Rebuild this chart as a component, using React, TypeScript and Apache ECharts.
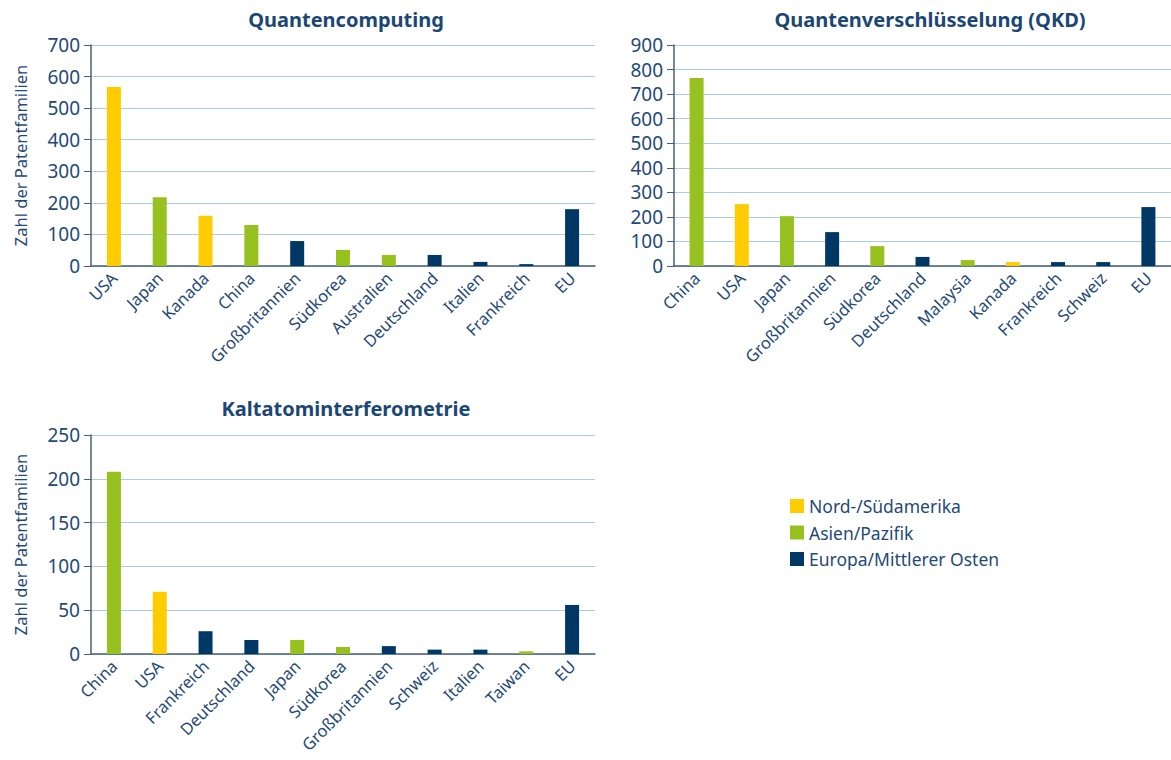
import React, { useEffect, useRef } from "react";
import * as echarts from "echarts";

const REGIONS = ["Nord-/Südamerika", "Asien/Pazifik", "Europa/Mittlerer Osten"];
const REGION_COLORS = ["#FFCC00", "#97C11F", "#003865"];

const titles = ["Quantencomputing", "Quantenverschlüsselung (QKD)", "Kaltatominterferometrie"];

const qcCategories = ["USA", "Japan", "Kanada", "China", "Großbritannien", "Südkorea", "Australien", "Deutschland", "Italien", "Frankreich", "EU"];
const qcValues = [567, 218, 159, 130, 79, 51, 35, 35, 13, 6, 180];
const qcRegions = [0, 1, 0, 1, 2, 1, 1, 2, 2, 2, 2];

const qkdCategories = ["China", "USA", "Japan", "Großbritannien", "Südkorea", "Deutschland", "Malaysia", "Kanada", "Frankreich", "Schweiz", "EU"];
const qkdValues = [766, 252, 203, 138, 81, 37, 24, 16, 16, 16, 240];
const qkdRegions = [1, 0, 1, 2, 1, 2, 1, 0, 2, 2, 2];

const caiCategories = ["China", "USA", "Frankreich", "Deutschland", "Japan", "Südkorea", "Großbritannien", "Schweiz", "Italien", "Taiwan", "EU"];
const caiValues = [208, 71, 26, 16, 16, 8, 9, 5, 5, 3, 56];
const caiRegions = [1, 0, 2, 2, 1, 1, 2, 2, 2, 1, 2];

const yMax = [700, 900, 250];
const yInterval = [100, 100, 50];

const TEXT = "#1f4a78";
const FONT = "'Noto Sans', 'Open Sans', sans-serif";

export default function App() {
  const ref = useRef<HTMLDivElement>(null);
  useEffect(() => {
    if (!ref.current) return;
    const chart = echarts.init(ref.current, null, { renderer: "svg" });
    const grids = [
      { left: 91, top: 45, width: 504, height: 221 },
      { left: 674, top: 45, width: 497, height: 221 },
      { left: 91, top: 435, width: 504, height: 219 },
    ];
    const cats = [qcCategories, qkdCategories, caiCategories];
    const vals = [qcValues, qkdValues, caiValues];
    const regs = [qcRegions, qkdRegions, caiRegions];

    const xAxis = cats.map((c, i) => ({
      type: "category",
      gridIndex: i,
      data: c,
      axisTick: { show: false },
      axisLine: { lineStyle: { color: "#4a5f78", width: 1.5 } },
      axisLabel: {
        rotate: 45,
        interval: 0,
        color: TEXT,
        fontSize: 16.5,
        fontFamily: FONT,
        margin: 9,
      },
    }));
    const yAxis = [0, 1, 2].map((i) => ({
      type: "value",
      gridIndex: i,
      min: 0,
      max: yMax[i],
      interval: yInterval[i],
      name: i === 1 ? "" : "Zahl der Patentfamilien",
      nameLocation: "middle",
      nameGap: 62,
      nameTextStyle: { color: TEXT, fontSize: 16.5, fontFamily: FONT },
      axisLine: { show: true, lineStyle: { color: "#4a5f78", width: 1.5 } },
      axisTick: { show: true, length: 7, lineStyle: { color: "#4a5f78" } },
      axisLabel: { color: TEXT, fontSize: 19, fontFamily: FONT, margin: 11 },
      splitLine: { lineStyle: { color: "#a8cbe6", width: 1.2 } },
    }));

    const series: any[] = [];
    for (let i = 0; i < 3; i++) {
      for (let r = 0; r < 3; r++) {
        series.push({
          type: "bar",
          name: REGIONS[r],
          xAxisIndex: i,
          yAxisIndex: i,
          stack: "s" + i,
          barWidth: 14,
          itemStyle: { color: REGION_COLORS[r] },
          data: vals[i].map((v, k) => (regs[i][k] === r ? v : "-")),
        });
      }
    }

    chart.setOption({
      animation: false,
      color: REGION_COLORS,
      title: [
        { text: titles[0], left: 341, top: 4, textAlign: "center" },
        { text: titles[1], left: 925, top: 4, textAlign: "center" },
        { text: titles[2], left: 341, top: 393, textAlign: "center" },
      ].map((t) => ({
        ...t,
        textStyle: { color: "#1b4775", fontSize: 20, fontWeight: "bold", fontFamily: FONT },
      })),
      legend: {
        orient: "vertical",
        left: 785,
        top: 492,
        itemWidth: 14,
        itemHeight: 14,
        itemGap: 8.5,
        icon: "rect",
        data: REGIONS,
        textStyle: { color: TEXT, fontSize: 17.5, fontFamily: FONT },
        selectedMode: false,
      },
      grid: grids,
      xAxis,
      yAxis,
      series,
    });
    return () => chart.dispose();
  }, []);
  return (
    <div
      ref={ref}
      style={{ position: "fixed", left: 0, top: 0, width: 1171, height: 760, background: "#fff" }}
    />
  );
}
